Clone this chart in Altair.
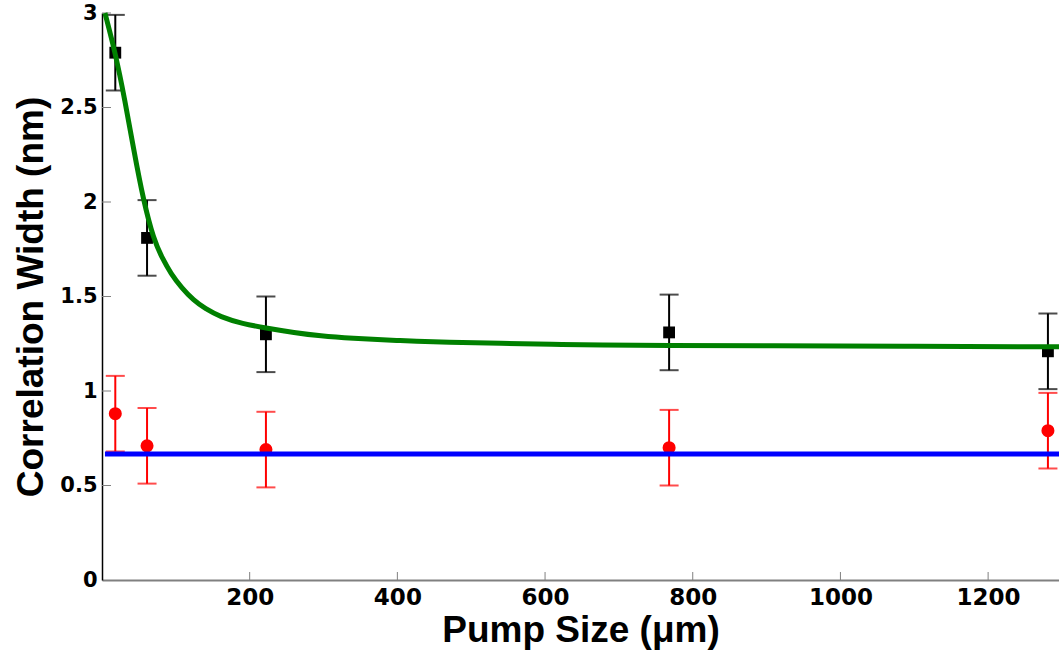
import altair as alt
import pandas as pd

# Measured points (pump size in um)
pump_size = [18, 61, 222, 768, 1281]
black_width = [2.79, 1.81, 1.30, 1.31, 1.21]
black_err = [0.20, 0.20, 0.20, 0.20, 0.20]
red_width = [0.88, 0.71, 0.69, 0.70, 0.79]
red_err = [0.20, 0.20, 0.20, 0.20, 0.20]

# Green fit curve
fit_x = [4, 18, 31, 43, 56, 70, 82, 93, 108, 124, 140, 160, 190, 224, 260, 296, 336, 404, 470, 540, 610, 675, 760, 900, 1100, 1296]
fit_y = [3.0, 2.79, 2.54, 2.275, 2.01, 1.80, 1.70, 1.623, 1.545, 1.48, 1.435, 1.393, 1.356, 1.332, 1.309, 1.291, 1.279, 1.266, 1.258, 1.252, 1.247, 1.243, 1.241, 1.239, 1.236, 1.234]

# Blue constant line
blue_x = [4, 1296]
blue_y = [0.667, 0.667]

x_ticks = [200, 400, 600, 800, 1000, 1200]
y_ticks = [0, 0.5, 1, 1.5, 2, 2.5, 3]

pts = pd.DataFrame({
    "x": pump_size,
    "yb": black_width,
    "yb_lo": [v - e for v, e in zip(black_width, black_err)],
    "yb_hi": [v + e for v, e in zip(black_width, black_err)],
    "yr": red_width,
    "yr_lo": [v - e for v, e in zip(red_width, red_err)],
    "yr_hi": [v + e for v, e in zip(red_width, red_err)],
})
fit = pd.DataFrame({"x": fit_x, "y": fit_y})
blue = pd.DataFrame({"x": blue_x, "y": blue_y})
xt = pd.DataFrame({"v": x_ticks})
yt = pd.DataFrame({"v": [v for v in y_ticks if v > 0]})

xscale = alt.Scale(domain=[0, 1296], nice=False, zero=False)
yscale = alt.Scale(domain=[0, 3], nice=False)

xaxis = alt.Axis(
    title="Pump Size (μm)", values=x_ticks, format="d", grid=False, ticks=False,
    labelFont="DejaVu Sans", labelFontWeight="bold", labelFontSize=23, labelColor="black",
    labelPadding=6, domainColor="#808080", domainWidth=2,
    titleFont="Liberation Sans", titleFontWeight="bold", titleFontSize=37, titleColor="black",
    titlePadding=3, titleLimit=1000,
)
yaxis = alt.Axis(
    title="Correlation Width (nm)", values=y_ticks, format="~g", grid=False, ticks=False,
    labelFont="DejaVu Sans", labelFontWeight="bold", labelFontSize=21, labelColor="black",
    labelPadding=5, domainColor="black", domainWidth=1.5,
    titleFont="Liberation Sans", titleFontWeight="bold", titleFontSize=37, titleColor="black",
    titlePadding=9, titleLimit=1000,
)

base = alt.Chart(pts)

black_bar = base.mark_rule(color="black", strokeWidth=2).encode(
    x=alt.X("x:Q", scale=xscale, axis=xaxis),
    y=alt.Y("yb_lo:Q", scale=yscale, axis=yaxis),
    y2="yb_hi:Q",
)
black_cap_lo = base.mark_tick(color="black", orient="horizontal", size=19, thickness=2).encode(
    x=alt.X("x:Q", scale=xscale), y=alt.Y("yb_lo:Q", scale=yscale))
black_cap_hi = base.mark_tick(color="black", orient="horizontal", size=19, thickness=2).encode(
    x=alt.X("x:Q", scale=xscale), y=alt.Y("yb_hi:Q", scale=yscale))
black_pts = base.mark_point(shape="square", filled=True, color="black", size=140, opacity=1).encode(
    x=alt.X("x:Q", scale=xscale), y=alt.Y("yb:Q", scale=yscale))

red_bar = base.mark_rule(color="#ff0000", strokeWidth=2).encode(
    x=alt.X("x:Q", scale=xscale), y=alt.Y("yr_lo:Q", scale=yscale), y2="yr_hi:Q")
red_cap_lo = base.mark_tick(color="#ff0000", orient="horizontal", size=19, thickness=2).encode(
    x=alt.X("x:Q", scale=xscale), y=alt.Y("yr_lo:Q", scale=yscale))
red_cap_hi = base.mark_tick(color="#ff0000", orient="horizontal", size=19, thickness=2).encode(
    x=alt.X("x:Q", scale=xscale), y=alt.Y("yr_hi:Q", scale=yscale))
red_pts = base.mark_point(shape="circle", filled=True, color="#ff0000", size=170, opacity=1).encode(
    x=alt.X("x:Q", scale=xscale), y=alt.Y("yr:Q", scale=yscale))

fit_line = alt.Chart(fit).mark_line(color="#008000", strokeWidth=5, interpolate="basis").encode(
    x=alt.X("x:Q", scale=xscale), y=alt.Y("y:Q", scale=yscale))
blue_line = alt.Chart(blue).mark_line(color="#0000ff", strokeWidth=5).encode(
    x=alt.X("x:Q", scale=xscale), y=alt.Y("y:Q", scale=yscale))

# inward ticks
xtick_marks = alt.Chart(xt).mark_rule(color="#808080", strokeWidth=1).encode(
    x=alt.X("v:Q", scale=xscale), y=alt.value(567), y2=alt.value(559))
ytick_marks = alt.Chart(yt).mark_rule(color="#808080", strokeWidth=1).encode(
    y=alt.Y("v:Q", scale=yscale), x=alt.value(0), x2=alt.value(9))

chart = alt.layer(
    black_bar, black_cap_lo, black_cap_hi, black_pts,
    red_bar, red_cap_lo, red_cap_hi, red_pts,
    xtick_marks, ytick_marks,
    fit_line, blue_line,
).properties(
    width=957, height=567,
    autosize=alt.AutoSizeParams(type="none"),
    padding={"left": 102, "top": 13, "right": 0, "bottom": 79},
    background="white",
).configure_view(stroke=None)

chart.save("out.html", embed_options={"renderer": "svg", "actions": False})
